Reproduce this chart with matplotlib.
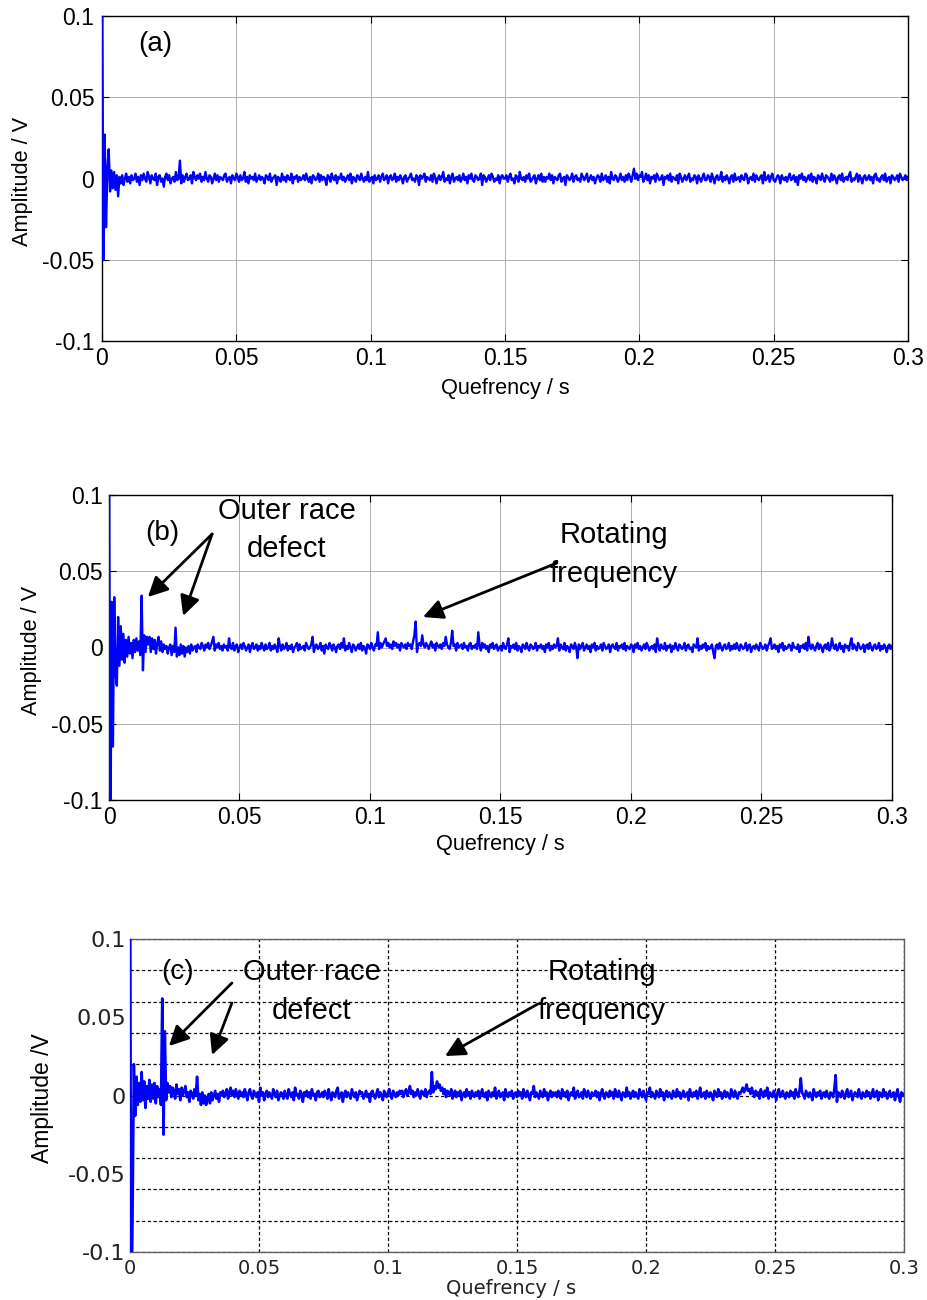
import numpy as np
import matplotlib
matplotlib.use("Agg")
import matplotlib.pyplot as plt
from matplotlib.ticker import MultipleLocator

plt.rcParams['font.family'] = ['Liberation Sans', 'DejaVu Sans']
plt.rcParams['axes.unicode_minus'] = False

# Real cepstrum samples, 0.5 ms quefrency step, values in mV
DT = 0.0005

cep_a = [
    150, -50, 27, -30, 6, 18, -8, 5, -6, 4, -7, 2, -11, 1, -3, 2, -4, 0, 3, -2, 1, -3, 2, -1, 0, 3, -2, 1, -4, 2,
    -1, 3, 0, -2, 4, 1, -3, 2, 0, -1, 3, -4, 1, 2, -2, 0, -5, 1, 3, -1, 2, -3, 0, 1, -2, 4, -1, 0, 11, -3,
    2, -2, 1, 3, -1, 0, 2, -3, 4, 1, -1, 2, 0, 3, -2, 1, -1, 4, 0, -2, 2, 1, -3, 0, 3, -1, 2, -2, 1, 0,
    -1, 2, 3, -2, 0, 1, -3, 2, 0, -1, 3, 1, -2, 2, -1, 0, 4, -2, 1, -3, 2, 0, 1, -1, 3, -2, 0, 2, -1, 1,
    0, -3, 2, 1, -1, 3, -2, 0, 1, 2, -4, 1, 0, -2, 3, -1, 1, -2, 2, 0, -1, 3, -3, 1, 0, 2, -2, 1, -1, 0,
    2, -1, 3, 0, -2, 1, -3, 2, 1, -1, 0, 3, -2, 2, -1, 1, 0, -4, 2, 1, -2, 3, 0, -1, 2, -3, 1, 0, 3, -1,
    1, -2, 0, 2, -1, 3, -3, 1, 0, -2, 2, 1, -1, 3, 0, -2, 1, -1, 4, -2, 0, 1, -3, 2, -1, 0, 2, -2, 1, 3,
    -1, 0, 2, -3, 1, 2, -1, 0, 3, -2, 1, -1, 2, 0, -3, 1, 2, -2, 0, 1, 3, -1, 0, -2, 2, 1, -4, 2, 0, 1,
    3, -2, 1, 0, -1, 2, -2, 3, 1, -3, 0, 2, -1, 1, 4, -2, 0, -1, 2, -3, 1, 3, -2, 0, 1, -1, 2, -2, 0, 3,
    -1, 1, -3, 2, 0, 3, -1, -2, 2, 1, -1, 0, 3, -4, 2, 1, -2, 0, 2, -1, 3, 1, -2, 0, -1, 2, -3, 1, 2, 0,
    0, 2, -2, 1, 3, -1, 0, -3, 2, 1, -2, 4, 0, -1, 1, -2, 2, 0, 3, -2, -1, 1, 2, -3, 0, 2, -1, 3, -2, 1,
    -2, 1, 0, 3, -1, 2, -3, 1, 0, -1, 2, 3, -2, 0, 1, -4, 2, 1, -1, 0, 3, -2, 1, 2, -1, 0, -2, 3, 1, -1,
    1, 3, -2, 0, 2, -1, 1, -3, 0, 2, 1, -2, 3, -1, 0, 2, -2, 1, -3, 4, 0, -1, 2, 1, -2, 0, 3, -1, 1, -2,
    2, -1, 3, 1, -2, 2, 6, 0, 3, -1, 2, 1, 4, -2, 0, 3, -1, 2, -3, 1, 0, 2, -2, 3, 1, -1, 0, 2, -4, 1,
    0, 2, -1, 3, -2, 1, 0, -1, 2, -3, 3, 1, -2, 0, 2, -1, 1, 3, -2, 0, -1, 2, 1, -3, 2, 0, -2, 1, 3, -1,
    -1, 2, 1, -2, 3, 0, -3, 1, 2, -1, 0, 4, -2, 1, -1, 2, 0, -3, 1, 2, -2, 3, -1, 0, 1, -2, 2, 0, -1, 3,
    2, -3, 0, 1, -1, 3, -2, 2, 0, -1, 1, 2, -3, 4, -1, 0, 2, -2, 1, 3, -1, -2, 0, 2, 1, -3, 2, 0, -1, 1,
    -2, 1, 3, -1, 0, 2, -2, 1, -4, 2, 0, 3, -1, 1, -2, 0, 2, -1, 3, -2, 1, 0, -3, 2, 1, -1, 3, 0, -2, 2,
    1, 0, -2, 3, -1, 2, 0, -3, 1, 2, -1, 3, -2, 0, 1, -1, 2, 4, -2, 0, -1, 1, 3, -2, 2, 0, -3, 1, 2, -1,
    0, 2, -1, 1, -3, 2, 3, -1, 0, -2, 1, 2, -1, 3, -2, 0, 1, -3, 2, 1, -1, 0, 2, -2, 3, 1, -1, 0, 2, -1,
    1,
]

cep_b = [
    150, -150, 30, -65, 33, -17, -25, 20, -12, 14, -8, 9, -10, 5, -6, 7, -4, 3, -7, 5, -3, 6, -2, 4, -5, 34, -15, 8, -3, 7,
    2, 7, -3, 6, -1, 5, -4, 3, 7, -2, 4, -3, 2, -1, 1, -4, 0, 2, -5, 1, -3, 13, -6, 0, -5, 2, -4, 1, -6, 0,
    -3, 1, -4, 2, -2, 0, 1, -3, 2, 0, -1, 3, 1, -2, 2, 0, 3, -1, 1, 4, 7, -2, 2, 0, 3, -1, 1, -2, 2, 0,
    1, -2, 6, 0, -1, 3, -2, 1, 2, -3, 0, 2, -1, 3, 1, -2, 0, 2, -3, 1, 3, -1, 0, 2, -2, 1, -1, 3, 0, -2,
    2, -1, 0, 3, -2, 1, -1, 2, 0, -3, 6, 1, -2, 2, -1, 0, 3, -2, 1, -1, 2, -3, 0, 1, 3, -2, 2, -1, 0, 1,
    -2, 3, 1, -1, 0, 2, 7, -3, 1, 2, -1, 0, 3, -2, 1, -4, 2, 0, -1, 3, 1, -2, 2, 0, -3, 1, 2, -1, 3, 0,
    6, -2, 1, -1, 3, 0, -3, 2, 1, -2, 0, 2, -1, 3, -2, 1, 0, -4, 2, 1, -1, 3, 0, -2, 2, 1, 10, -1, 3, 0,
    2, 4, 6, 1, 3, 0, 2, -1, 4, 1, 3, 0, 2, -2, 3, 1, 0, 2, -1, 3, 1, 2, -1, 4, 8, 17, -3, 2, 3, 1,
    8, 2, 0, 3, 1, -1, 2, 4, 0, 2, -2, 3, 1, 0, 2, -1, 3, 1, 7, 2, 0, -1, 3, 11, 1, 2, -2, 3, 0, 1,
    2, -1, 3, 0, 1, -2, 2, 3, -1, 1, 0, 2, -1, 10, 1, -2, 3, 0, 2, -1, 1, -3, 2, 0, 3, -1, 1, 2, -2, 0,
    1, -2, 3, 0, -1, 2, 6, -3, 1, 0, 2, -1, 3, -2, 1, 0, -3, 2, 1, -1, 3, 0, -2, 2, 1, -1, 0, 3, -2, 1,
    0, 2, -1, 1, -3, 2, 0, 3, -2, 1, -1, 2, 0, 1, 6, -2, 2, 0, -1, 3, -2, 1, 0, -3, 2, 1, -1, 3, 0, -7,
    2, -1, 1, 3, -2, 0, 2, -1, 1, -3, 2, 0, 3, -2, 1, -1, 0, 2, -2, 3, 1, -1, 0, 2, -3, 1, 2, 0, -1, 3,
    -2, 1, 0, 2, -1, 3, -2, 1, 0, -1, 2, 1, -3, 2, 0, 3, -1, 1, -2, 0, 2, -1, 3, 1, -2, 0, 1, -1, 2, -3,
    6, 1, -2, 2, 0, -1, 3, -2, 1, 0, 2, -3, 1, -1, 3, 0, -2, 2, 1, -1, 0, 3, -2, 1, 2, -1, 0, -3, 2, 1,
    0, 6, -2, 1, -1, 2, 0, 3, -2, 1, -1, 0, 2, -3, -7, 1, 2, -1, 3, 0, -2, 1, 2, -1, 0, 3, -2, 1, -1, 2,
    -1, 3, 0, -2, 2, 1, -1, 0, 3, -2, 1, 2, -3, 0, 1, -1, 2, 0, -2, 3, 1, -1, 0, 2, -2, 1, 3, 6, -1, 0,
    2, -1, 1, -3, 2, 0, 3, -2, 1, -1, 0, 2, 1, -2, 3, 0, 0, -1, 2, -3, 1, 0, 2, -1, 3, -2, 7, 1, -1, 2,
    0, -2, 1, 3, -1, 2, 0, -3, 1, 2, -1, 3, -2, 0, 6, 1, -1, 2, -2, 0, 3, -1, 1, -3, 2, 0, 1, -2, 3, 6,
    -1, 2, 0, -2, 3, 1, -1, 0, 2, -3, 1, 2, -1, 3, 0, -2, 1, 2, -1, 0, 3, -2, 1, -1, 2, 0, -3, 1, 2, -1,
    1,
]

cep_c = [
    150, -150, -75, 20, -13, 12, -6, 8, -4, 15, -3, 9, -8, 6, -2, 10, -4, 7, -2, 8, -5, 6, -1, 4, -6, 62, -25, 41, -3, 8,
    2, 6, -1, 5, 3, -2, 7, 1, 4, -3, 5, 0, 3, 6, -1, 2, -4, 3, 1, -2, 4, 0, 12, -3, 1, -6, 2, -5, 0, -6,
    -2, 1, -5, 2, -3, 0, 3, -2, 1, -4, 2, 0, 3, -1, 1, 4, -2, 2, 5, 0, 3, -1, 4, 1, -2, 3, 0, 2, -1, 4,
    1, -3, 2, 4, 0, -2, 3, 1, -1, 2, -4, 5, 0, 2, -3, 1, 3, -1, 2, 0, -2, 4, 1, -1, 3, -3, 0, 2, 1, -2,
    3, 0, -2, 4, 1, -1, 2, -3, 5, 0, 1, -2, 3, 1, -4, 2, 0, 3, -1, 2, -2, 4, 0, 1, -3, 2, 3, -1, 0, 2,
    -1, 3, 1, -2, 4, 0, -3, 2, 1, -1, 3, 5, -2, 0, 2, -4, 1, 3, -1, 2, 0, -2, 4, 1, -1, 2, -3, 0, 3, 1,
    2, -2, 0, 3, -1, 1, -4, 2, 3, 0, -2, 1, 4, -1, 2, 0, -3, 3, 1, -1, 2, 4, 0, -2, 3, 1, -1, 2, 0, 3,
    1, 3, -1, 2, 4, 0, 2, 6, 1, 3, -1, 2, 0, 4, 1, -2, 3, 2, 0, 4, -1, 2, 3, 1, 15, 2, 6, 4, 9, 5,
    7, 3, 5, 1, 4, -1, 3, 2, 0, 4, -2, 1, 3, -1, 2, 0, 3, -3, 1, 2, -1, 4, 0, 2, -2, 3, 1, -1, 2, 0,
    3, -2, 1, 4, 0, -1, 2, -3, 3, 1, -1, 2, 0, 5, -2, 1, 3, -1, 0, 2, -3, 4, 1, -1, 2, 0, 3, -2, 1, 2,
    -1, 3, 0, 2, -2, 4, 1, -1, 3, 0, -3, 2, 1, 6, -1, 2, 0, -2, 3, 1, -1, 4, 0, 2, -3, 1, 3, -1, 2, 0,
    2, -1, 3, 1, -2, 4, 0, 2, -1, 3, -3, 1, 2, 0, 5, -2, 1, 3, -1, 0, 2, -2, 4, 1, -1, 3, 0, -2, 2, 1,
    0, 3, -1, 2, -3, 1, 4, 0, -2, 2, 1, -1, 3, 0, 2, -2, 4, 1, -1, 3, 0, -3, 2, 1, -1, 5, 0, 2, -2, 1,
    3, -1, 2, 0, -2, 4, 1, -1, 3, 0, -3, 2, 1, 5, -1, 2, 0, -2, 3, 1, -1, 4, 0, 2, -3, 1, 3, -1, 2, 0,
    -2, 3, 1, -1, 4, 0, 2, -2, 1, 3, -1, 0, 2, -3, 4, 1, -1, 2, 0, 3, -2, 1, 5, -1, 0, 2, -2, 3, 1, -1,
    2, 0, -3, 3, 1, -1, 4, 0, 2, -2, 1, 3, -1, 2, 0, -2, 4, 1, -1, 3, 0, -2, 2, 1, 3, 5, 2, 4, 7, 3,
    4, 1, 5, 2, -1, 3, 0, 2, -2, 4, 1, -1, 3, 0, 5, -2, 2, 1, -1, 3, 0, -3, 2, 4, -1, 1, 3, 0, -2, 2,
    1, -1, 3, 0, 2, -2, 4, 1, -1, 3, 11, 2, 0, -2, 3, 1, -1, 2, 0, -3, 4, 1, -1, 2, 0, 3, -2, 1, 2, -1,
    3, 0, -2, 2, 1, -1, 4, 13, -4, 2, 1, -1, 3, 0, -2, 2, 4, -1, 1, 3, -3, 0, 2, 1, -1, 4, 0, -2, 2, 1,
    -1, 3, 0, 2, -2, 1, 4, -1, 0, 3, -3, 2, 1, -1, 4, 0, 2, -2, 1, 3, -1, 0, 2, -3, 1, 4, -1, -4, 2, 0,
    1,
]

x_ticks = [0, 0.05, 0.1, 0.15, 0.2, 0.25, 0.3]
x_ticklabels = ['0', '0.05', '0.1', '0.15', '0.2', '0.25', '0.3']
y_ticks = [-0.1, -0.05, 0, 0.05, 0.1]
y_ticklabels = ['-0.1', '-0.05', '0', '0.05', '0.1']

BLUE = '#0000ff'
W, H = 927, 1300


def rect(left, top, right, bottom):
    return [left / W, 1 - bottom / H, (right - left) / W, (bottom - top) / H]


def series(vals):
    v = np.asarray(vals, dtype=float) / 1000.0
    q = np.arange(len(v)) * DT
    return q, v


fig = plt.figure(figsize=(9.27, 13.0), dpi=100)


def matlab_panel(r, vals, ylab, tick_fs, lab_fs, xpad, ypad, ylab_x, xlab_y):
    ax = fig.add_axes(r)
    q, v = series(vals)
    ax.plot(q, v, color=BLUE, lw=1.7, zorder=3)
    ax.set_xlim(0, 0.3)
    ax.set_ylim(-0.1, 0.1)
    ax.set_xticks(x_ticks)
    ax.set_xticklabels(x_ticklabels)
    ax.set_yticks(y_ticks)
    ax.set_yticklabels(y_ticklabels)
    ax.tick_params(direction='in', top=True, right=True, length=5, width=0.8,
                   labelsize=tick_fs, colors='k')
    ax.tick_params(axis='x', pad=xpad)
    ax.tick_params(axis='y', pad=ypad)
    ax.grid(True, color='#b0b0b0', lw=0.7, ls='-')
    ax.set_axisbelow(True)
    for s in ax.spines.values():
        s.set_linewidth(1.0)
        s.set_color('k')
    ax.set_xlabel('Quefrency / s', fontsize=lab_fs, va='center')
    ax.set_ylabel(ylab, fontsize=lab_fs, va='center')
    ax.xaxis.set_label_coords(0.5, xlab_y)
    ax.yaxis.set_label_coords(ylab_x, 0.49)
    return ax


# (a)
ax_a = matlab_panel(rect(102, 16, 908, 341), cep_a, 'Amplitude / V', 16.5, 15.7, 4.5, 5.5, -0.099, -0.147)
ax_a.text(0.0197, 0.0828, '(a)', fontsize=20, ha='center', va='center')

# (b)
ax_b = matlab_panel(rect(109, 495, 892, 800), cep_b, 'Amplitude / V', 16.5, 15.7, 4, 4.5, -0.0996, -0.1475)
ax_b.text(0.0203, 0.0751, '(b)', fontsize=20, ha='center', va='center')
ax_b.text(0.0682, 0.0895, 'Outer race', fontsize=21, ha='center', va='center')
ax_b.text(0.0682, 0.0646, 'defect', fontsize=21, ha='center', va='center')
ax_b.text(0.1935, 0.0738, 'Rotating', fontsize=21, ha='center', va='center')
ax_b.text(0.1935, 0.0482, 'frequency', fontsize=21, ha='center', va='center')

arrow = dict(arrowstyle='-|>', color='k', lw=2.0, mutation_scale=30, shrinkA=0, shrinkB=0)
ax_b.annotate('', xy=(0.0149, 0.0331), xytext=(0.0395, 0.0744), arrowprops=arrow)
ax_b.annotate('', xy=(0.0284, 0.0207), xytext=(0.0395, 0.0744), arrowprops=arrow)
ax_b.annotate('', xy=(0.1203, 0.0200), xytext=(0.1716, 0.0554), arrowprops=arrow)

# (c)
ax_c = fig.add_axes(rect(130, 939, 904, 1252))
q, v = series(cep_c)
ax_c.plot(q, v, color=BLUE, lw=1.9, zorder=3)
ax_c.set_xlim(0, 0.3)
ax_c.set_ylim(-0.1, 0.1)
ax_c.set_xticks(x_ticks)
ax_c.set_xticklabels(x_ticklabels)
ax_c.set_yticks(y_ticks)
ax_c.set_yticklabels(y_ticklabels)
ax_c.yaxis.set_minor_locator(MultipleLocator(0.02))
ax_c.yaxis.remove_overlapping_locs = False
ax_c.tick_params(which='both', length=0, colors='#222222')
ax_c.tick_params(axis='x', pad=5, labelsize=14)
ax_c.tick_params(axis='y', pad=3, labelsize=16)
for lab in ax_c.get_xticklabels() + ax_c.get_yticklabels():
    lab.set_family('DejaVu Sans')
dash = (0, (2.6, 2.0))
ax_c.grid(True, axis='x', which='major', color='k', lw=0.9, ls=dash)
ax_c.grid(True, axis='y', which='minor', color='k', lw=0.9, ls=dash)
ax_c.set_axisbelow(True)
for s in ax_c.spines.values():
    s.set_linewidth(1.0)
    s.set_color('#606060')
ax_c.set_xlabel('Quefrency / s', fontsize=14, family='DejaVu Sans', va='center', color='#222222')
ax_c.set_ylabel('Amplitude /V', fontsize=16.5, va='center')
ax_c.xaxis.set_label_coords(0.492, -0.118)
ax_c.yaxis.set_label_coords(-0.113, 0.492)

ax_c.text(0.0186, 0.0789, '(c)', fontsize=20, ha='center', va='center')
ax_c.text(0.0705, 0.0789, 'Outer race', fontsize=21, ha='center', va='center')
ax_c.text(0.0705, 0.0540, 'defect', fontsize=21, ha='center', va='center')
ax_c.text(0.1830, 0.0789, 'Rotating', fontsize=21, ha='center', va='center')
ax_c.text(0.1830, 0.0540, 'frequency', fontsize=21, ha='center', va='center')
ax_c.annotate('', xy=(0.0151, 0.0316), xytext=(0.0395, 0.0719), arrowprops=arrow)
ax_c.annotate('', xy=(0.0318, 0.0259), xytext=(0.0395, 0.0591), arrowprops=arrow)
ax_c.annotate('', xy=(0.1221, 0.0252), xytext=(0.1581, 0.0585), arrowprops=arrow)

fig.savefig('out.png', dpi=100)
